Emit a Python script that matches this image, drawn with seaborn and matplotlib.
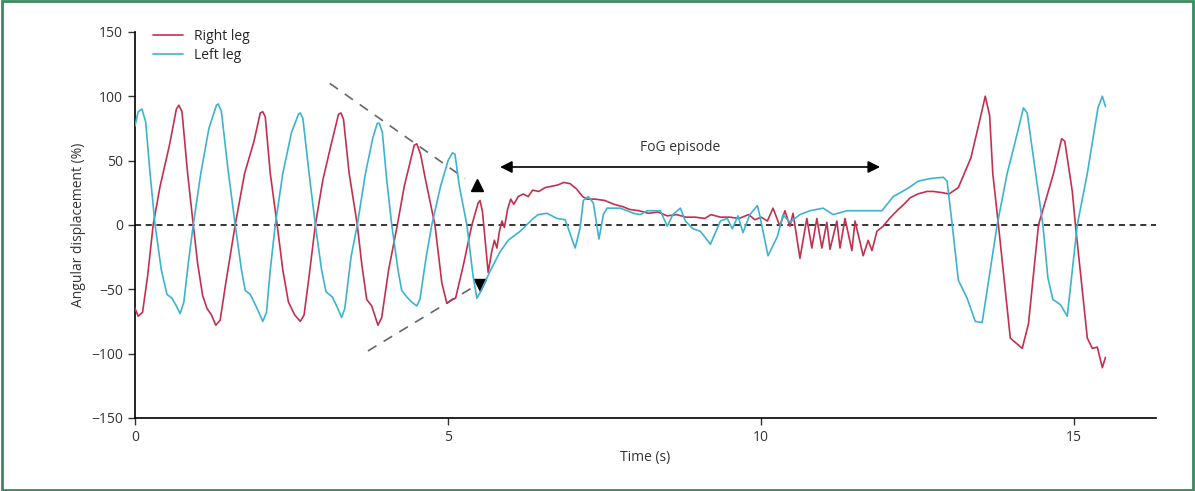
import matplotlib
matplotlib.use("Agg")
import matplotlib.pyplot as plt
import seaborn as sns
import pandas as pd
from matplotlib.patches import Rectangle

# values
right_t = [0.00, 0.05, 0.12, 0.20, 0.29, 0.40, 0.55, 0.66, 0.70, 0.75, 0.84, 0.93,
           1.00, 1.08, 1.15, 1.22, 1.29, 1.36, 1.45, 1.60, 1.75, 1.90, 2.00, 2.04,
           2.08, 2.16, 2.27, 2.36, 2.45, 2.55, 2.64, 2.70, 2.78, 2.88, 3.00, 3.12,
           3.25, 3.29, 3.33, 3.42, 3.55, 3.62, 3.70, 3.78, 3.88, 3.94, 4.05, 4.19,
           4.30, 4.46, 4.50, 4.56, 4.64, 4.79, 4.90, 4.98, 5.06, 5.12, 5.25, 5.38,
           5.48, 5.51, 5.55, 5.64, 5.70, 5.74, 5.78, 5.82, 5.86, 5.90, 5.95, 6.00,
           6.05, 6.12, 6.20, 6.28, 6.35, 6.45, 6.55, 6.65, 6.75, 6.85, 6.95, 7.05,
           7.15, 7.22, 7.35, 7.50, 7.65, 7.80, 7.90, 8.05, 8.20, 8.35, 8.50, 8.65,
           8.80, 8.95, 9.10, 9.20, 9.35, 9.50, 9.65, 9.80, 9.90, 10.00, 10.10, 10.19,
           10.30, 10.38, 10.46, 10.51, 10.62, 10.73, 10.81, 10.89, 10.97, 11.05, 11.10,
           11.21, 11.26, 11.34, 11.45, 11.50, 11.63, 11.71, 11.77, 11.85, 11.95, 12.05,
           12.17, 12.28, 12.38, 12.50, 12.65, 12.75, 12.90, 13.00, 13.15, 13.35, 13.50,
           13.58, 13.65, 13.70, 13.79, 13.98, 14.10, 14.17, 14.27, 14.43, 14.67, 14.80,
           14.85, 14.97, 15.02, 15.21, 15.29, 15.37, 15.45, 15.50]
right_v = [-65, -71, -68, -40, 0, 30, 62, 90, 93, 88, 40, 0,
           -30, -55, -65, -70, -78, -74, -45, 0, 40, 65, 87, 88,
           84, 40, 0, -35, -60, -70, -75, -70, -40, 0, 35, 60,
           86, 87, 82, 40, 0, -30, -58, -63, -78, -72, -35, 0,
           30, 62, 63, 55, 35, 0, -45, -61, -58, -57, -30, 0,
           17, 19, 10, -37, -20, -12, -18, -5, 3, -2, 12, 20,
           16, 22, 24, 22, 27, 26, 29, 30, 31, 33, 32, 28,
           22, 20, 20, 19, 16, 14, 12, 11, 9, 10, 7, 8,
           6, 6, 5, 8, 6, 6, 5, 8, 4, 6, 3, 13,
           -1, 11, -1, 9, -26, 5, -18, 5, -18, 2, -19,
           3, -18, 5, -20, 3, -24, -12, -20, -5, -1, 5,
           11, 16, 21, 24, 26, 26, 25, 24, 29, 52, 83,
           100, 85, 40, 0, -88, -93, -96, -77, 0, 40, 67,
           65, 26, 0, -88, -96, -95, -111, -103]

left_t = [0.00, 0.05, 0.11, 0.17, 0.24, 0.32, 0.42, 0.51, 0.59, 0.66, 0.72, 0.78,
          0.85, 0.93, 1.05, 1.18, 1.30, 1.33, 1.38, 1.48, 1.60, 1.70, 1.76, 1.84,
          1.95, 2.04, 2.10, 2.16, 2.24, 2.36, 2.50, 2.61, 2.64, 2.68, 2.78, 2.88,
          2.98, 3.05, 3.15, 3.22, 3.30, 3.35, 3.45, 3.55, 3.68, 3.80, 3.87, 3.90,
          3.95, 4.02, 4.10, 4.20, 4.26, 4.34, 4.42, 4.50, 4.55, 4.65, 4.74, 4.88,
          5.00, 5.07, 5.11, 5.18, 5.30, 5.40, 5.46, 5.52, 5.67, 5.83, 5.96, 6.04,
          6.15, 6.36, 6.44, 6.58, 6.74, 6.87, 7.03, 7.11, 7.16, 7.24, 7.32, 7.41,
          7.48, 7.54, 7.75, 7.86, 7.96, 8.07, 8.18, 8.39, 8.50, 8.59, 8.71, 8.79,
          8.91, 9.03, 9.19, 9.35, 9.46, 9.54, 9.63, 9.71, 9.82, 9.94, 9.98, 10.11,
          10.26, 10.35, 10.46, 10.62, 10.78, 10.99, 11.15, 11.37, 11.58, 11.74, 11.93,
          12.11, 12.33, 12.51, 12.70, 12.91, 12.97, 13.05, 13.15, 13.29, 13.42, 13.53,
          13.77, 13.93, 14.06, 14.19, 14.25, 14.50, 14.58, 14.66, 14.78, 14.89, 15.05,
          15.21, 15.38, 15.45, 15.50]
left_v = [77, 88, 90, 80, 40, 0, -35, -54, -57, -63, -69, -60,
          -30, 0, 40, 75, 93, 94, 88, 45, 0, -35, -51, -54,
          -65, -75, -68, -35, 0, 40, 72, 86, 87, 83, 40, 0,
          -35, -52, -56, -63, -72, -65, -25, 0, 40, 68, 79, 79,
          72, 35, 0, -35, -51, -56, -60, -63, -58, -25, 0, 30,
          50, 56, 55, 30, 0, -40, -57, -52, -36, -21, -12, -9,
          -5, 5, 8, 9, 5, 4, -18, -2, 19, 22, 17, -11,
          8, 13, 13, 11, 9, 8, 11, 11, -1, 8, 13, 3,
          -3, -5, -15, 3, 5, -3, 7, -6, 8, 15, 7, -24,
          -9, 8, 2, 8, 11, 13, 8, 11, 11, 11, 11,
          22, 28, 34, 36, 37, 34, 1, -43, -57, -75, -76,
          0, 40, 65, 91, 87, 0, -41, -58, -62, -71, 0,
          40, 91, 100, 92]

legs = ["Right leg", "Left leg"]
colors = ["#c2304f", "#3db3d1"]

df = pd.concat([
    pd.DataFrame({"t": right_t, "v": right_v, "leg": legs[0]}),
    pd.DataFrame({"t": left_t, "v": left_v, "leg": legs[1]}),
])

sns.set_style("ticks")
plt.rcParams["font.family"] = ["Open Sans", "DejaVu Sans"]

fig = plt.figure(figsize=(11.95, 4.91), dpi=100)
ax = fig.add_axes([0.113, 0.149, 0.854, 0.786])

ax.axhline(0, color="black", lw=1.1, ls=(0, (4, 3)), zorder=1)
sns.lineplot(data=df, x="t", y="v", hue="leg", palette=colors, estimator=None,
             sort=False, lw=1.2, ax=ax, zorder=3)

# convergence funnel and arrowheads
ax.plot([3.11, 5.27], [110, 36], color="#666666", lw=1.2, ls=(0, (6, 5)))
ax.plot([3.72, 5.38], [-98, -49], color="#666666", lw=1.2, ls=(0, (6, 5)))
ax.plot([5.46], [31], marker="^", color="black", ms=9)
ax.plot([5.51], [-47], marker="v", color="black", ms=9)

# FoG episode
ax.annotate("", xy=(5.83, 45), xytext=(11.9, 45),
            arrowprops=dict(arrowstyle="<|-|>", color="black", lw=1.2,
                            mutation_scale=18, shrinkA=0, shrinkB=0))
ax.text(8.7, 54, "FoG episode", ha="center", va="bottom", fontsize=10, color="#333333")

ax.set_xlim(0, 16.3)
ax.set_ylim(-150, 150)
ax.set_xticks([0, 5, 10, 15])
ax.set_yticks([-150, -100, -50, 0, 50, 100, 150])
ax.set_xlabel("Time (s)", fontsize=10, color="#333333")
ax.set_ylabel("Angular displacement (%)", fontsize=10, color="#333333")
ax.tick_params(direction="out", length=5, width=1, labelsize=10, colors="#333333")
for s in ["left", "bottom"]:
    ax.spines[s].set_linewidth(1.2)
    ax.spines[s].set_color("black")
sns.despine(ax=ax)

ax.legend(loc="upper left", bbox_to_anchor=(0.005, 1.04), frameon=False, fontsize=10,
          handlelength=2.2, labelspacing=0.3, title=None)

fig.patches.append(Rectangle((0.002, 0.003), 0.996, 0.994, transform=fig.transFigure,
                             fill=False, edgecolor="#3a8a5f", lw=2))

fig.savefig("out.png", dpi=100)
